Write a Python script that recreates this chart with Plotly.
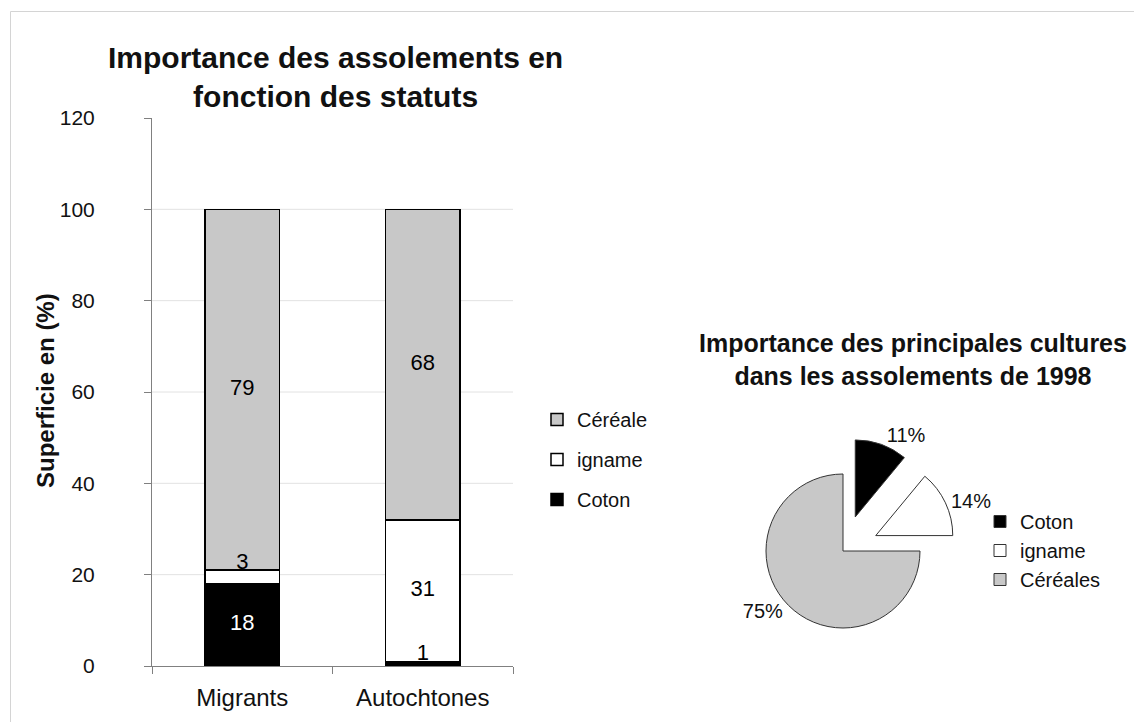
import plotly.graph_objects as go

# stacked bars: share of cultivated area by status (%)
categories = ["Migrants", "Autochtones"]
coton = [18, 1]
igname = [3, 31]
cereale = [79, 68]

# pie: main crops in the 1998 rotations (%)
pie_labels = ["Coton", "igname", "Céréales"]
pie_values = [11, 14, 75]
pie_pull = [0.47, 0.47, 0]

y_ticks = [0, 20, 40, 60, 80, 100, 120]

W, H = 1142, 722
OFF = 8  # the page body adds an 8px margin around the figure
FONT = "Liberation Sans, Arial, sans-serif"
GREY = "#c8c8c8"


def px_x(v):
    return (v - OFF) / W


def px_y(v):
    return 1 - (v - OFF) / H


fig = go.Figure()

series = [
    ("Coton", coton, "black", 3),
    ("igname", igname, "white", 2),
    ("Céréale", cereale, GREY, 1),
]
for name, vals, color, rank in series:
    fig.add_trace(go.Bar(
        x=categories,
        y=vals,
        name=name,
        legendgroup=name,
        legendrank=rank,
        marker=dict(color=color, line=dict(color="black", width=1.5)),
        hovertemplate=f"<b>%{{x}}</b><br>{name}: %{{y}}%<extra></extra>",
    ))

# value labels, centred in the segment; thin segments get theirs just above
base = [0] * len(categories)
lx, ly, lt, lc = [], [], [], []
for name, vals, color, _ in series:
    for i, v in enumerate(vals):
        lx.append(categories[i])
        lt.append(str(v))
        if v >= 5:
            ly.append(base[i] + v / 2)
            lc.append("white" if color == "black" else "black")
        else:
            ly.append(base[i] + v + 1.5)
            lc.append("black")
        base[i] += v

fig.add_trace(go.Scatter(
    x=lx, y=ly, text=lt, mode="text",
    textfont=dict(size=22, color=lc, family=FONT),
    showlegend=False, hoverinfo="skip",
))

fig.add_trace(go.Pie(
    labels=pie_labels,
    values=pie_values,
    pull=pie_pull,
    sort=False,
    direction="clockwise",
    rotation=0,
    marker=dict(colors=["black", "white", GREY], line=dict(color="#333", width=1)),
    textinfo="percent",
    textposition="outside",
    textfont=dict(size=20, family=FONT, color="#111"),
    domain=dict(x=[px_x(729.8), px_x(956.2)], y=[px_y(664.2), px_y(437.8)]),
    legend="legend2",
    hovertemplate="<b>%{label}</b><br>%{percent}<extra></extra>",
))

shapes = [
    # thin frame around the whole picture
    dict(type="rect", xref="paper", yref="paper",
         x0=px_x(10.5), x1=1.03, y0=-0.03, y1=px_y(11.5),
         line=dict(color="#d4d4d4", width=1)),
]
for t in y_ticks[1:-1]:
    shapes.append(dict(type="line", xref="x domain", yref="y", x0=0, x1=1, y0=t, y1=t,
                       line=dict(color="#e2e2e2", width=1), layer="below"))

fig.update_layout(
    width=W,
    height=H,
    margin=dict(l=0, r=0, t=0, b=0),
    barmode="stack",
    bargap=0.585,
    plot_bgcolor="white",
    paper_bgcolor="white",
    font=dict(family=FONT, color="#111"),
    showlegend=True,
    xaxis=dict(
        domain=[px_x(152), px_x(513)],
        showline=True, linecolor="#808080", linewidth=1,
        ticks="outside", tickson="boundaries", ticklen=7, tickcolor="#808080",
        tickfont=dict(size=24), ticklabelstandoff=10,
        showgrid=False, automargin=False,
    ),
    yaxis=dict(
        domain=[px_y(666), px_y(118)],
        range=[0, 120], tickvals=y_ticks,
        showline=True, linecolor="#808080", linewidth=1,
        ticks="outside", ticklen=7, tickcolor="#808080",
        tickfont=dict(size=21), ticklabelstandoff=45,
        showgrid=False, zeroline=False, automargin=False,
    ),
    legend=dict(
        x=px_x(537), y=px_y(400), xanchor="left", yanchor="top",
        traceorder="grouped", tracegroupgap=11,
        font=dict(size=20), bgcolor="rgba(0,0,0,0)",
    ),
    legend2=dict(
        x=px_x(980), y=px_y(502), xanchor="left", yanchor="top",
        traceorder="normal", font=dict(size=20), bgcolor="rgba(0,0,0,0)",
    ),
    shapes=shapes,
    annotations=[
        dict(text="<b>Importance des assolements en<br>fonction des statuts</b>",
             x=px_x(336), y=px_y(77), xref="paper", yref="paper",
             showarrow=False, font=dict(size=30), xanchor="center", yanchor="middle"),
        dict(text="<b>Superficie en (%)</b>", textangle=-90,
             x=px_x(45), y=px_y(390), xref="paper", yref="paper",
             showarrow=False, font=dict(size=24), xanchor="center", yanchor="middle"),
        dict(text="<b>Importance des principales cultures<br>dans les assolements de 1998</b>",
             x=px_x(913), y=px_y(359), xref="paper", yref="paper",
             showarrow=False, font=dict(size=25), xanchor="center", yanchor="middle"),
    ],
)

fig.write_html("out.html")
